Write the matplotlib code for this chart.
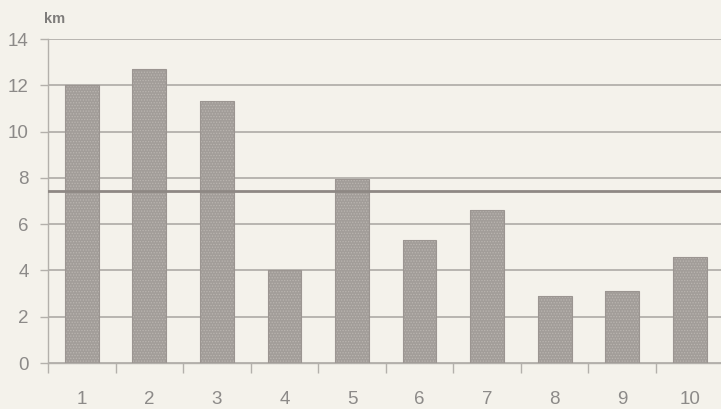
import matplotlib
matplotlib.use("Agg")
import matplotlib.pyplot as plt

categories = ["1", "2", "3", "4", "5", "6", "7", "8", "9", "10"]
values = [12.0, 12.7, 11.3, 4.0, 7.95, 5.3, 6.6, 2.9, 3.1, 4.6]
reference = 7.45
yticks = [0, 2, 4, 6, 8, 10, 12, 14]

bg = "#f4f2eb"
txt = "#8c8a88"
gridc = "#b3b0ab"

plt.rcParams["font.family"] = ["Liberation Sans", "DejaVu Sans"]
plt.rcParams["hatch.linewidth"] = 0.6

fig = plt.figure(figsize=(7.21, 4.09), dpi=100, facecolor=bg)
ax = fig.add_axes([48/721, 1-363/409, 675.5/721, 324/409], facecolor=bg)

x = list(range(1, len(values) + 1))
ax.bar(x, values, width=0.5, color="#a29d99", edgecolor="#bab5b0",
       hatch="......", linewidth=0, zorder=3)
ax.bar(x, values, width=0.5, fill=False, edgecolor="#9b9591",
       linewidth=0.8, zorder=3)
ax.axhline(reference, color="#8e8884", linewidth=2.0, zorder=4)

ax.set_xlim(0.5, 10.5)
ax.set_ylim(0, 14)
ax.set_yticks(yticks)
ax.set_yticklabels([str(v) for v in yticks])
ax.set_xticks(x)
ax.set_xticklabels(categories)
ax.set_xticks([i + 0.5 for i in range(0, 11)], minor=True)

ax.grid(axis="y", color=gridc, linewidth=1.3, zorder=1)
for s in ["top", "right"]:
    ax.spines[s].set_visible(False)
for s in ["left", "bottom"]:
    ax.spines[s].set_color(gridc)
    ax.spines[s].set_linewidth(1.0)

ax.tick_params(axis="y", length=6, width=1, color=gridc, labelcolor=txt,
               labelsize=13.5, pad=8)
ax.tick_params(axis="x", which="major", length=0, labelcolor=txt,
               labelsize=13.5, pad=20)
ax.tick_params(axis="x", which="minor", length=7, width=1, color=gridc)

fig.text(44/721, 1-19/409, "km", color="#7e7c7a", fontsize=10.5, va="center",
         ha="left", fontweight="bold")

fig.savefig("out.png", dpi=100, facecolor=bg)
